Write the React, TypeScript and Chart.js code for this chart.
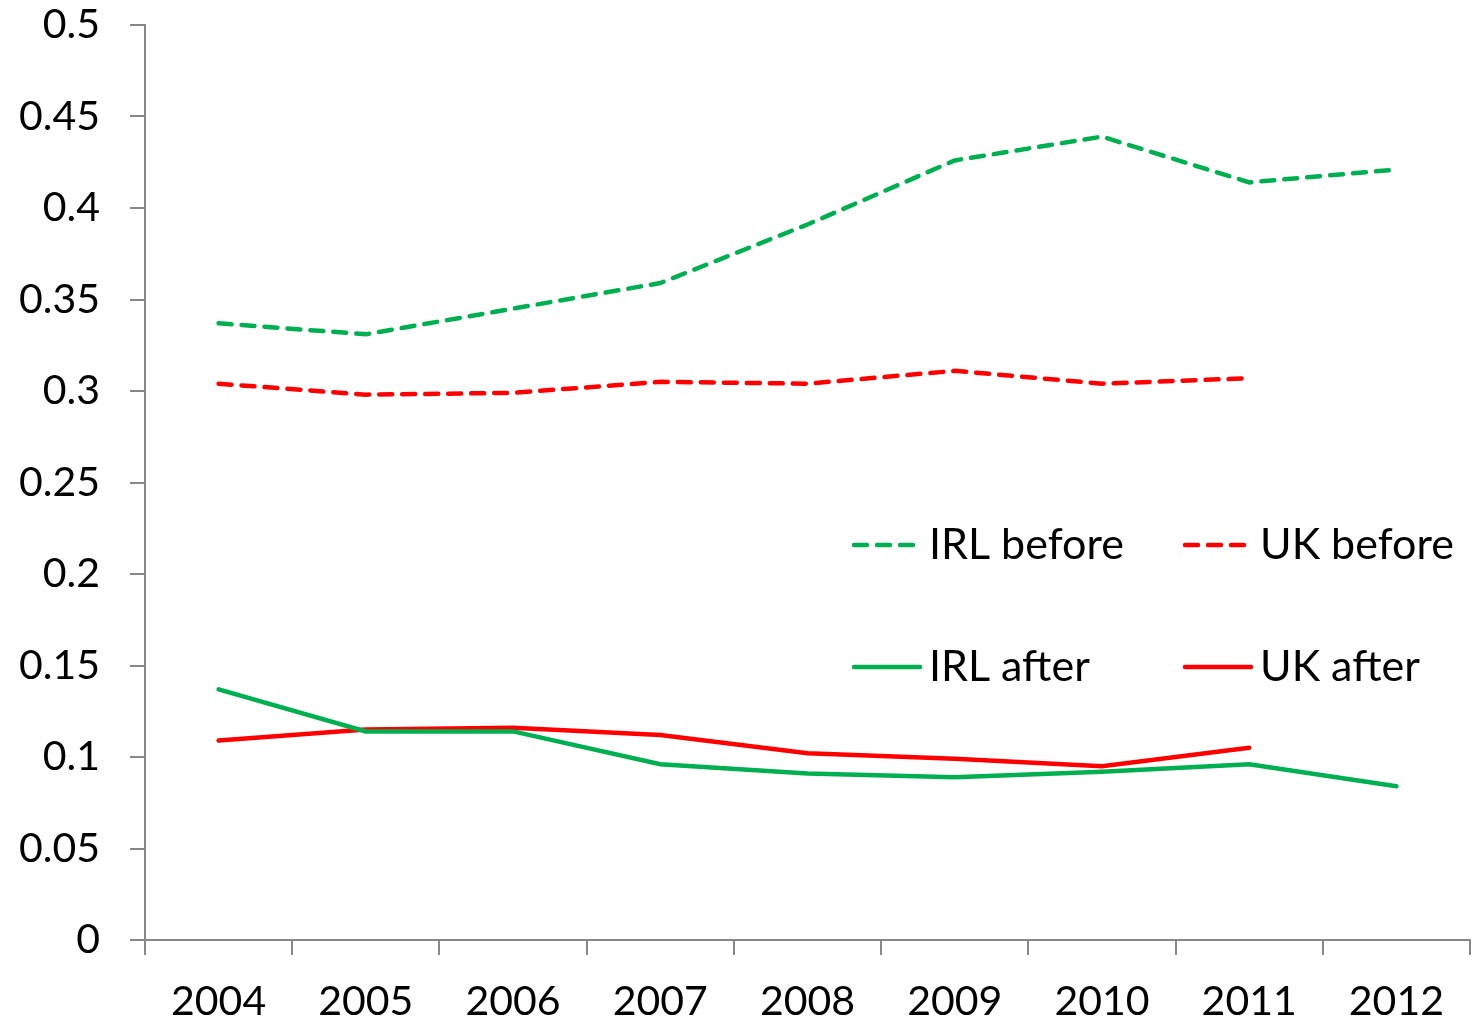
import React, { useEffect, useRef } from "react";
import { Chart, registerables } from "chart.js";

Chart.register(...registerables);

const years = ["2004", "2005", "2006", "2007", "2008", "2009", "2010", "2011", "2012"];
const irlBefore = [0.337, 0.331, 0.345, 0.359, 0.391, 0.426, 0.439, 0.414, 0.421];
const ukBefore = [0.304, 0.298, 0.299, 0.305, 0.304, 0.311, 0.304, 0.307, null];
const irlAfter = [0.137, 0.114, 0.114, 0.096, 0.091, 0.089, 0.092, 0.096, 0.084];
const ukAfter = [0.109, 0.115, 0.116, 0.112, 0.102, 0.099, 0.095, 0.105, null];

const GREEN = "#00B050";
const RED = "#FF0000";
const FONT = "Lato, 'Open Sans', sans-serif";

const legendItems = [
  { label: "IRL before", color: GREEN, dashed: true, col: 0, row: 0 },
  { label: "UK before", color: RED, dashed: true, col: 1, row: 0 },
  { label: "IRL after", color: GREEN, dashed: false, col: 0, row: 1 },
  { label: "UK after", color: RED, dashed: false, col: 1, row: 1 },
];

const legendPlugin = {
  id: "customLegend",
  afterDraw(chart: any) {
    const ctx = chart.ctx;
    const colX = [852, 1183];
    const rowY = [545, 667];
    ctx.save();
    ctx.font = `43px ${FONT}`;
    ctx.textBaseline = "middle";
    ctx.textAlign = "left";
    legendItems.forEach((it) => {
      const x = colX[it.col];
      const y = rowY[it.row];
      ctx.strokeStyle = it.color;
      ctx.lineWidth = 4.5;
      ctx.lineCap = "round";
      ctx.setLineDash(it.dashed ? [13, 10] : []);
      ctx.beginPath();
      ctx.moveTo(x + 2, y);
      ctx.lineTo(x + (it.dashed ? 62 : 68), y);
      ctx.stroke();
      ctx.setLineDash([]);
      ctx.fillStyle = "#000";
      ctx.fillText(it.label, x + 77, y);
    });
    ctx.restore();
  },
};

export default function App() {
  const ref = useRef<HTMLCanvasElement>(null);
  useEffect(() => {
    document.body.style.margin = "0";
    const mk = (label: string, data: any[], color: string, dashed: boolean) => ({
      label,
      data,
      borderColor: color,
      backgroundColor: color,
      borderWidth: 4.5,
      borderDash: dashed ? [13, 10] : [],
      borderCapStyle: "round" as const,
      pointRadius: 0,
      tension: 0,
      spanGaps: false,
    });
    const chart = new Chart(ref.current!, {
      type: "line",
      data: {
        labels: years,
        datasets: [
          mk("IRL before", irlBefore, GREEN, true),
          mk("UK before", ukBefore, RED, true),
          mk("IRL after", irlAfter, GREEN, false),
          mk("UK after", ukAfter, RED, false),
        ],
      },
      options: {
        animation: false,
        responsive: false,
        layout: { padding: { top: 25, right: 2, left: 0, bottom: 0 } },
        plugins: { legend: { display: false }, tooltip: { enabled: false } },
        scales: {
          x: {
            offset: true,
            grid: {
              display: true,
              drawOnChartArea: false,
              drawTicks: true,
              tickLength: 15,
              color: "#888",
              lineWidth: 2,
              offset: true,
            },
            border: { display: true, color: "#888", width: 2 },
            ticks: { color: "#000", font: { family: FONT, size: 41 }, padding: 22, maxRotation: 0 },
            afterFit: (s: any) => {
              s.height = 83;
              s.paddingLeft = 0;
              s.paddingRight = 0;
            },
          },
          y: {
            min: 0,
            max: 0.5,
            ticks: {
              stepSize: 0.05,
              color: "#000",
              font: { family: FONT, size: 41 },
              padding: 30,
              callback: (v: any) => String(Math.round(Number(v) * 100) / 100),
            },
            grid: {
              display: true,
              drawOnChartArea: false,
              drawTicks: true,
              tickLength: 15,
              color: "#888",
              lineWidth: 2,
            },
            border: { display: true, color: "#888", width: 2 },
            afterFit: (s: any) => {
              s.width = 145;
              s.paddingTop = 0;
              s.paddingBottom = 0;
            },
          },
        },
      },
      plugins: [legendPlugin],
    });
    return () => chart.destroy();
  }, []);
  return (
    <div style={{ position: "absolute", left: 0, top: 0, width: 1472, height: 1023, background: "#fff" }}>
      <canvas ref={ref} width={1472} height={1023} style={{ display: "block" }} />
    </div>
  );
}
